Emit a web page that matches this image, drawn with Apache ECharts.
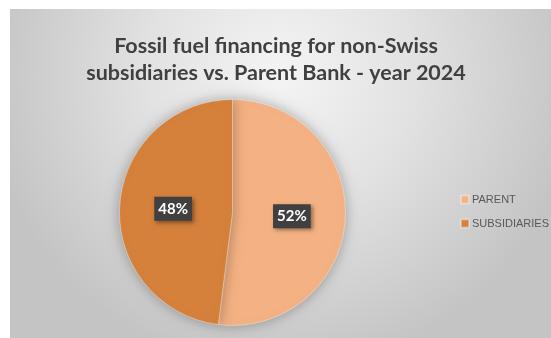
<!DOCTYPE html>
<html><head><meta charset="utf-8">
<script src="https://cdn.jsdelivr.net/npm/echarts@6/dist/echarts.min.js"></script>
<style>html,body{margin:0;padding:0;background:#fff}#c{width:551px;height:338px}</style>
</head><body><div id="c"></div>
<script>
const categories = ['PARENT', 'SUBSIDIARIES'];
const values = [52, 48];
const colors = ['#F4B183', '#D5803B'];
const titleLines = ['Fossil fuel financing for non-Swiss', 'subsidiaries vs. Parent Bank - year 2024'];

const chart = echarts.init(document.getElementById('c'), null, {renderer: 'canvas'});
chart.setOption({
  animation: false,
  backgroundColor: '#ffffff',
  graphic: [{
    type: 'rect', z: -10, silent: true,
    shape: {x: 10, y: 9, width: 541, height: 329},
    style: {
      fill: {type: 'radial', x: 0.5, y: 0.2, r: 0.9, colorStops: [
        {offset: 0, color: '#f4f4f4'},
        {offset: 0.45, color: '#e2e2e2'},
        {offset: 1, color: '#c4c4c4'}
      ]}
    }
  }],
  title: {
    text: titleLines.join('\n'),
    left: 271, top: 28, textAlign: 'center',
    textStyle: {fontFamily: 'Lato', fontWeight: 'bold', fontSize: 21.5, color: '#404040', lineHeight: 27}
  },
  legend: {
    orient: 'vertical', left: 455, top: 189,
    itemWidth: 8, itemHeight: 8, itemGap: 13, icon: 'rect',
    textStyle: {fontFamily: 'Liberation Sans', fontSize: 11, color: '#595959', padding: [0,0,0,-2]},
    data: categories
  },
  series: [{
    type: 'pie',
    center: [232.5, 212.5], radius: 113,
    startAngle: 90, clockwise: true,
    color: colors,
    itemStyle: {borderColor: 'rgba(255,255,255,0.35)', borderWidth: 1, shadowBlur: 14, shadowColor: 'rgba(0,0,0,0.3)'},
    label: {
      show: true, position: 'inside',
      formatter: p => Math.round(p.percent) + '%',
      fontFamily: 'Lato', fontWeight: 'bold', fontSize: 15, color: '#ffffff',
      backgroundColor: '#404040', padding: [5, 4, 4, 4],
      shadowBlur: 4, shadowColor: 'rgba(0,0,0,0.4)', shadowOffsetX: 2, shadowOffsetY: 2
    },
    labelLine: {show: false},
    emphasis: {disabled: true},
    data: categories.map((c, i) => ({name: c, value: values[i]}))
  }]
});
</script></body></html>
